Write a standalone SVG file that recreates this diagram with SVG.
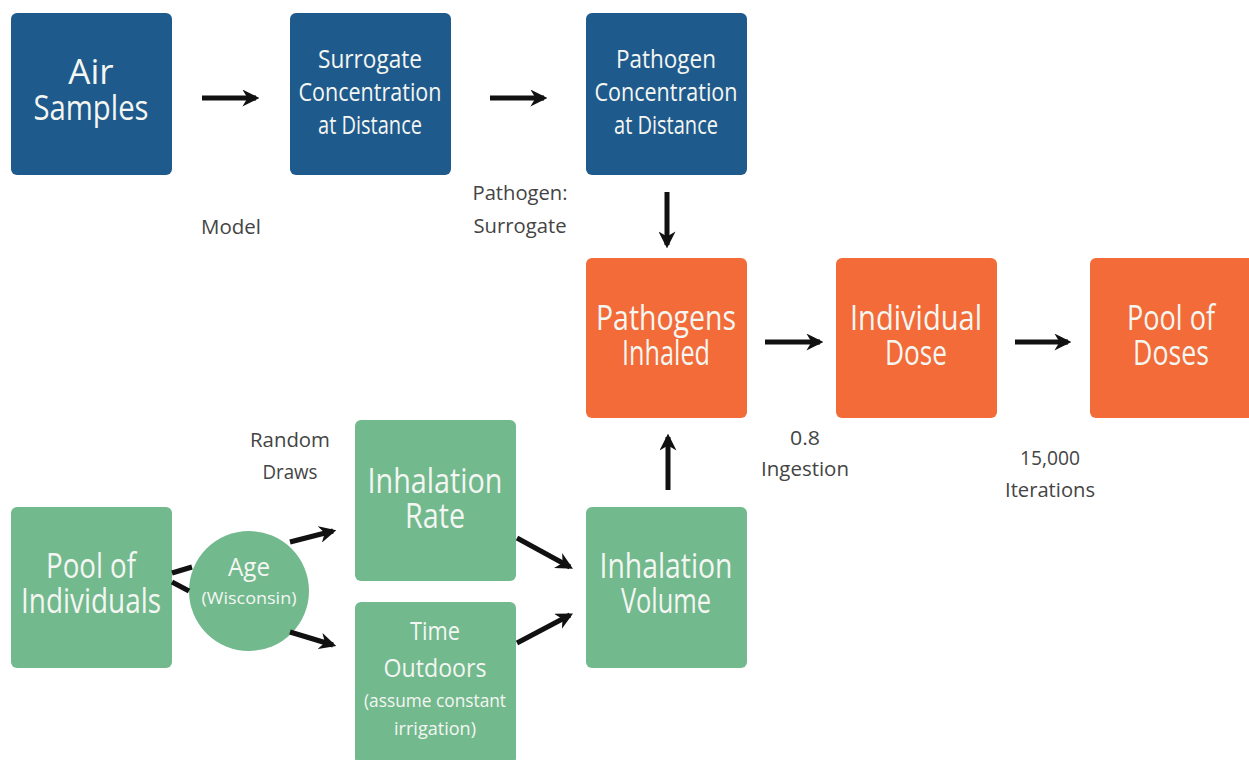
<svg xmlns="http://www.w3.org/2000/svg" width="1249" height="760" viewBox="0 0 1249 760">
<style>
.blue{fill:#1f5a8c}
.orange{fill:#f26b38}
.green{fill:#72b98e}
.t{font-family:"Open Sans","DejaVu Sans","Liberation Sans",sans-serif;fill:#f4f6f2;text-anchor:middle}
.lbl{font-family:"Open Sans","DejaVu Sans","Liberation Sans",sans-serif;fill:#444;text-anchor:middle;font-size:20px}
.c{stroke:#111;stroke-width:5;fill:none}
</style>
<defs>
<marker id="ah" viewBox="0 0 10 10" refX="8" refY="5" markerWidth="3.4" markerHeight="3.4" orient="auto" markerUnits="strokeWidth">
<path d="M0,0 L10,5 L0,10 L3,5 z" fill="#111"/>
</marker>
</defs>
<rect width="1249" height="760" fill="#ffffff"/>

<g id="air-samples"><rect class="blue" x="11" y="13" width="161" height="162" rx="6"/>
<text class="t" font-size="35" lengthAdjust="spacingAndGlyphs"><tspan x="91" y="84">Air</tspan></text>
<text class="t" font-size="35" x="91" y="120" textLength="115" lengthAdjust="spacingAndGlyphs">Samples</text></g>
<g id="surrogate"><rect class="blue" x="290" y="13" width="161" height="162" rx="6"/>
<text class="t" font-size="26" x="370" y="68" textLength="104" lengthAdjust="spacingAndGlyphs">Surrogate</text>
<text class="t" font-size="26" x="370" y="101" textLength="143" lengthAdjust="spacingAndGlyphs">Concentration</text>
<text class="t" font-size="26" x="370" y="134" textLength="104" lengthAdjust="spacingAndGlyphs">at Distance</text></g>
<g id="pathogen-conc"><rect class="blue" x="586" y="13" width="161" height="162" rx="6"/>
<text class="t" font-size="26" x="666" y="68" textLength="100" lengthAdjust="spacingAndGlyphs">Pathogen</text>
<text class="t" font-size="26" x="666" y="101" textLength="143" lengthAdjust="spacingAndGlyphs">Concentration</text>
<text class="t" font-size="26" x="666" y="134" textLength="104" lengthAdjust="spacingAndGlyphs">at Distance</text></g>

<g id="pathogens-inhaled"><rect class="orange" x="586" y="258" width="161" height="160" rx="6"/>
<text class="t" font-size="35" x="666" y="330" textLength="140" lengthAdjust="spacingAndGlyphs">Pathogens</text>
<text class="t" font-size="35" x="666" y="365" textLength="88" lengthAdjust="spacingAndGlyphs">Inhaled</text></g>
<g id="individual-dose"><rect class="orange" x="836" y="258" width="161" height="160" rx="6"/>
<text class="t" font-size="35" x="916" y="330" textLength="132" lengthAdjust="spacingAndGlyphs">Individual</text>
<text class="t" font-size="35" x="916" y="365" textLength="62" lengthAdjust="spacingAndGlyphs">Dose</text></g>
<g id="pool-doses"><rect class="orange" x="1090" y="258" width="165" height="160" rx="6"/>
<text class="t" font-size="35" x="1171" y="330" textLength="88" lengthAdjust="spacingAndGlyphs">Pool of</text>
<text class="t" font-size="35" x="1171" y="365" textLength="76" lengthAdjust="spacingAndGlyphs">Doses</text></g>

<g id="pool-individuals"><rect class="green" x="11" y="507" width="161" height="161" rx="6"/>
<text class="t" font-size="35" x="91" y="578" textLength="90" lengthAdjust="spacingAndGlyphs">Pool of</text>
<text class="t" font-size="35" x="91" y="613" textLength="140" lengthAdjust="spacingAndGlyphs">Individuals</text></g>
<g id="age"><circle class="green" cx="249" cy="591" r="60"/>
<text class="t" font-size="26" x="249" y="576" textLength="42" lengthAdjust="spacingAndGlyphs">Age</text>
<text class="t" font-size="17" x="249" y="604" textLength="95" lengthAdjust="spacingAndGlyphs">(Wisconsin)</text></g>
<g id="inhalation-rate"><rect class="green" x="355" y="420" width="161" height="161" rx="6"/>
<text class="t" font-size="35" x="435" y="493" textLength="135" lengthAdjust="spacingAndGlyphs">Inhalation</text>
<text class="t" font-size="35" x="435" y="528" textLength="60" lengthAdjust="spacingAndGlyphs">Rate</text></g>
<g id="time-outdoors"><rect class="green" x="355" y="602" width="161" height="162" rx="6"/>
<text class="t" font-size="26" x="435" y="640" textLength="50" lengthAdjust="spacingAndGlyphs">Time</text>
<text class="t" font-size="26" x="435" y="677" textLength="103" lengthAdjust="spacingAndGlyphs">Outdoors</text>
<text class="t" font-size="18" x="435" y="707" textLength="142" lengthAdjust="spacingAndGlyphs">(assume constant</text>
<text class="t" font-size="18" x="435" y="735" textLength="82" lengthAdjust="spacingAndGlyphs">irrigation)</text></g>
<g id="inhalation-volume"><rect class="green" x="586" y="507" width="161" height="161" rx="6"/>
<text class="t" font-size="35" x="666" y="578" textLength="133" lengthAdjust="spacingAndGlyphs">Inhalation</text>
<text class="t" font-size="35" x="666" y="613" textLength="90" lengthAdjust="spacingAndGlyphs">Volume</text></g>

<g id="connectors">
<line class="c" x1="202" y1="98" x2="256" y2="98" marker-end="url(#ah)"/>
<line class="c" x1="490" y1="98" x2="544" y2="98" marker-end="url(#ah)"/>
<line class="c" x1="667" y1="192" x2="667" y2="245" marker-end="url(#ah)"/>
<line class="c" x1="765" y1="342" x2="820" y2="342" marker-end="url(#ah)"/>
<line class="c" x1="1015" y1="342" x2="1068" y2="342" marker-end="url(#ah)"/>
<line class="c" x1="668" y1="490" x2="668" y2="437" marker-end="url(#ah)"/>
<line class="c" x1="517" y1="538" x2="570" y2="567" marker-end="url(#ah)"/>
<line class="c" x1="517" y1="643" x2="570" y2="615" marker-end="url(#ah)"/>
<line class="c" x1="290" y1="542" x2="333" y2="531" marker-end="url(#ah)"/>
<line class="c" x1="290" y1="632" x2="333" y2="645" marker-end="url(#ah)"/>
<line class="c" x1="172" y1="573" x2="192" y2="567"/>
<line class="c" x1="172" y1="582" x2="189" y2="591"/>
</g>

<g id="labels">
<text class="lbl" x="231" y="234" textLength="60" lengthAdjust="spacingAndGlyphs">Model</text>
<text class="lbl" x="520" y="200" textLength="95" lengthAdjust="spacingAndGlyphs">Pathogen:</text>
<text class="lbl" x="520" y="233" textLength="93" lengthAdjust="spacingAndGlyphs">Surrogate</text>
<text class="lbl" x="805" y="445" textLength="30" lengthAdjust="spacingAndGlyphs">0.8</text>
<text class="lbl" x="805" y="476" textLength="88" lengthAdjust="spacingAndGlyphs">Ingestion</text>
<text class="lbl" x="1050" y="465" textLength="60" lengthAdjust="spacingAndGlyphs">15,000</text>
<text class="lbl" x="1050" y="497" textLength="90" lengthAdjust="spacingAndGlyphs">Iterations</text>
<text class="lbl" x="290" y="447" textLength="80" lengthAdjust="spacingAndGlyphs">Random</text>
<text class="lbl" x="290" y="479" textLength="55" lengthAdjust="spacingAndGlyphs">Draws</text>
</g>
</svg>
